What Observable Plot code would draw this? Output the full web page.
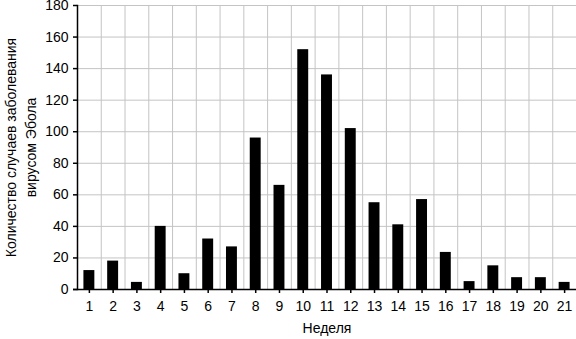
<!DOCTYPE html>
<html><head><meta charset="utf-8">
<script src="https://cdn.jsdelivr.net/npm/d3@7"></script>
<script src="https://cdn.jsdelivr.net/npm/@observablehq/plot@0.6"></script>
<style>html,body{margin:0;padding:0;background:#fff}</style>
</head><body><div id="chart"></div>
<script>
const weeks = [1,2,3,4,5,6,7,8,9,10,11,12,13,14,15,16,17,18,19,20,21];
const cases = [12,18,4.5,40,10,32,27,96,66,152,136,102,55,41,57,23.5,5,15,7.5,7.5,4.5];
const yTicks = [0,20,40,60,80,100,120,140,160,180];
const xTitle = "Неделя";
const yTitle = "Количество случаев заболевания\nвирусом Эбола";

const data = weeks.map((w, i) => ({week: w, cases: cases[i]}));
const W = 576, H = 339, mL = 77, mR = 0;
const step = (W - mL - mR) / weeks.length;

const chart = Plot.plot({
  width: W, height: H,
  marginLeft: mL, marginRight: mR, marginTop: 5, marginBottom: 50,
  style: {fontFamily: "'Liberation Sans', Arial, sans-serif", fontSize: "14px", background: "#fff", color: "#000"},
  x: {type: "band", domain: weeks, paddingInner: 0.54, paddingOuter: 0.27, round: false, axis: null},
  y: {domain: [0, 180], axis: null},
  marks: [
    Plot.ruleY(yTicks, {stroke: "#c4c4c4", strokeWidth: 1}),
    Plot.ruleX(weeks, {x: d => d, dx: step / 2, stroke: "#c4c4c4", strokeWidth: 1}),
    Plot.barY(data, {x: "week", y: "cases", fill: "#000"}),
    Plot.axisY({ticks: yTicks, tickSize: 4, tickPadding: 5, label: null, stroke: "#000", strokeWidth: 1.5, fontSize: 14}),
    Plot.axisX({tickSize: 4, tickPadding: 8, label: null, stroke: "#000", strokeWidth: 1.5, fontSize: 14}),
    Plot.frame({anchor: "left", stroke: "#000", strokeWidth: 1.5}),
    Plot.ruleY([0], {stroke: "#000", strokeWidth: 1.5, insetLeft: -4}),
    Plot.text([xTitle], {text: d => d, frameAnchor: "bottom", dy: 43, fontSize: 14, fill: "#000"}),
    Plot.text([yTitle], {text: d => d, frameAnchor: "left", textAnchor: "middle", rotate: -90, dx: -58, lineHeight: 1.45, fontSize: 14, fill: "#000"})
  ]
});
document.getElementById("chart").appendChild(chart);
</script>
</body></html>
